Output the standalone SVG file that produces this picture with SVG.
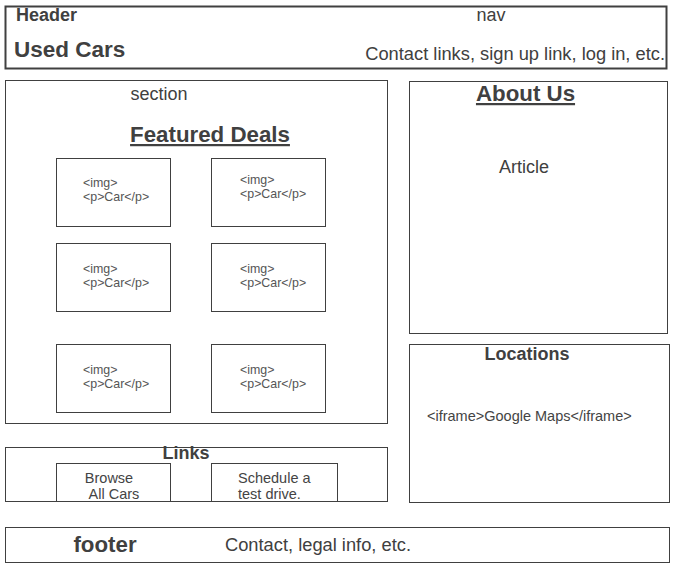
<svg xmlns="http://www.w3.org/2000/svg" width="676" height="572" viewBox="0 0 676 572">
<style>
rect.box{fill:#fff;stroke:#404040;stroke-width:1}
text{font-family:"Liberation Sans",Arial,sans-serif;fill:#404040}
.b{font-weight:bold}
.sm{font-size:12.4px;fill:#555}
.m{font-size:14.5px;fill:#444}
.u{text-decoration:underline}
</style>
<g id="header">
<rect class="box" x="5.5" y="6.5" width="661" height="62" style="stroke-width:2"/>
<text class="b" x="16" y="21" font-size="18">Header</text>
<text class="b" x="14" y="57" font-size="22.5">Used Cars</text>
<text x="491" y="21" font-size="18" text-anchor="middle">nav</text>
<text x="665" y="60" font-size="18.3" text-anchor="end">Contact links, sign up link, log in, etc.</text>
</g>
<g id="section">
<rect class="box" x="5.5" y="80.5" width="382" height="343"/>
<text x="159" y="100" font-size="18" text-anchor="middle">section</text>
<text class="b u" x="210" y="142" font-size="22.3" text-anchor="middle">Featured Deals</text>
</g>
<g id="car1"><rect class="box" x="56.5" y="158.5" width="114" height="68"/><text class="sm" x="83" y="187">&lt;img&gt;</text><text class="sm" x="83" y="201">&lt;p&gt;Car&lt;/p&gt;</text></g>
<g id="car2"><rect class="box" x="211.5" y="158.5" width="114" height="68"/><text class="sm" x="240" y="184">&lt;img&gt;</text><text class="sm" x="240" y="198">&lt;p&gt;Car&lt;/p&gt;</text></g>
<g id="car3"><rect class="box" x="56.5" y="243.5" width="114" height="68"/><text class="sm" x="83" y="273">&lt;img&gt;</text><text class="sm" x="83" y="287">&lt;p&gt;Car&lt;/p&gt;</text></g>
<g id="car4"><rect class="box" x="211.5" y="243.5" width="114" height="68"/><text class="sm" x="240" y="273">&lt;img&gt;</text><text class="sm" x="240" y="287">&lt;p&gt;Car&lt;/p&gt;</text></g>
<g id="car5"><rect class="box" x="56.5" y="344.5" width="114" height="68"/><text class="sm" x="83" y="374">&lt;img&gt;</text><text class="sm" x="83" y="388">&lt;p&gt;Car&lt;/p&gt;</text></g>
<g id="car6"><rect class="box" x="211.5" y="344.5" width="114" height="68"/><text class="sm" x="240" y="374">&lt;img&gt;</text><text class="sm" x="240" y="388">&lt;p&gt;Car&lt;/p&gt;</text></g>
<g id="about">
<rect class="box" x="409.5" y="81.5" width="258" height="252"/>
<text class="b u" x="525.5" y="101" font-size="22.3" text-anchor="middle">About Us</text>
<text x="524" y="173" font-size="18" text-anchor="middle">Article</text>
</g>
<g id="locations">
<rect class="box" x="409.5" y="344.5" width="260" height="158"/>
<text class="b" x="527" y="360" font-size="18" text-anchor="middle">Locations</text>
<text class="m" x="427" y="421">&lt;iframe&gt;Google Maps&lt;/iframe&gt;</text>
</g>
<g id="links">
<rect class="box" x="5.5" y="447.5" width="382" height="54"/>
<g id="browse"><rect class="box" x="56.5" y="463.5" width="114" height="38"/><text class="m" x="109" y="483" text-anchor="middle">Browse</text><text class="m" x="114" y="499" text-anchor="middle">All Cars</text></g>
<g id="schedule"><rect class="box" x="211.5" y="463.5" width="126" height="38"/><text class="m" x="238" y="483">Schedule a</text><text class="m" x="238" y="499">test drive.</text></g>
<text class="b" x="186" y="459" font-size="18" text-anchor="middle">Links</text>
</g>
<g id="footer">
<rect class="box" x="5.5" y="527.5" width="664" height="35"/>
<text class="b" x="105" y="552" font-size="22.3" text-anchor="middle">footer</text>
<text x="225" y="551" font-size="18.3">Contact, legal info, etc.</text>
</g>
<g id="connectors"></g>
</svg>
